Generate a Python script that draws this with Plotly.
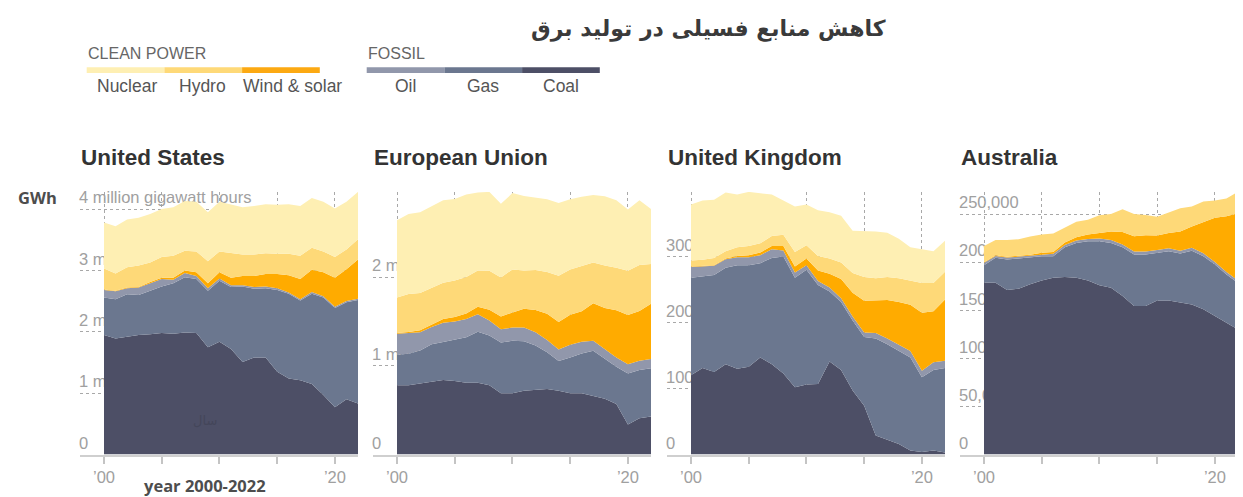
import plotly.graph_objects as go

# The page body keeps an 8 px margin, so the figure is sized to fill the rest
# of the 1243x497 window and reference pixel positions are shifted by 8 px.
PAGE_MARGIN = 8
FW, FH = 1243 - PAGE_MARGIN, 497 - PAGE_MARGIN

years = list(range(2000, 2023))

# ---------------- data ----------------
# United States, million GWh
us_coal = [1.95, 1.89, 1.92, 1.95, 1.96, 1.98, 1.97, 1.99, 1.98, 1.75, 1.84, 1.72, 1.51, 1.58, 1.58, 1.35, 1.24, 1.21, 1.15, 0.97, 0.77, 0.90, 0.83]
us_gas = [0.61, 0.64, 0.69, 0.65, 0.71, 0.76, 0.82, 0.90, 0.88, 0.92, 0.99, 1.01, 1.23, 1.12, 1.13, 1.33, 1.38, 1.30, 1.47, 1.59, 1.62, 1.58, 1.69]
us_oil = [0.12, 0.13, 0.10, 0.12, 0.12, 0.12, 0.06, 0.07, 0.05, 0.04, 0.04, 0.03, 0.02, 0.03, 0.03, 0.03, 0.02, 0.02, 0.03, 0.02, 0.02, 0.02, 0.02]
us_ws = [0.01, 0.01, 0.01, 0.01, 0.02, 0.02, 0.03, 0.04, 0.06, 0.08, 0.10, 0.12, 0.15, 0.18, 0.20, 0.23, 0.28, 0.33, 0.36, 0.39, 0.47, 0.52, 0.64]
us_hydro = [0.34, 0.28, 0.33, 0.35, 0.32, 0.34, 0.36, 0.32, 0.34, 0.36, 0.34, 0.40, 0.35, 0.35, 0.34, 0.33, 0.35, 0.38, 0.36, 0.34, 0.34, 0.32, 0.33]
us_nuclear = [0.75, 0.77, 0.78, 0.78, 0.79, 0.78, 0.79, 0.81, 0.81, 0.80, 0.81, 0.79, 0.77, 0.79, 0.80, 0.80, 0.81, 0.81, 0.81, 0.81, 0.79, 0.78, 0.77]

# European Union, million GWh
eu_coal = [0.78, 0.78, 0.80, 0.82, 0.84, 0.83, 0.81, 0.81, 0.78, 0.69, 0.69, 0.72, 0.73, 0.74, 0.72, 0.69, 0.69, 0.66, 0.63, 0.57, 0.34, 0.41, 0.43]
eu_gas = [0.345, 0.356, 0.374, 0.424, 0.43, 0.464, 0.513, 0.573, 0.561, 0.573, 0.592, 0.558, 0.498, 0.412, 0.334, 0.404, 0.45, 0.51, 0.45, 0.42, 0.573, 0.543, 0.543]
eu_oil = [0.236, 0.232, 0.206, 0.194, 0.217, 0.206, 0.206, 0.199, 0.169, 0.15, 0.149, 0.154, 0.15, 0.138, 0.131, 0.143, 0.131, 0.112, 0.111, 0.104, 0.105, 0.105, 0.105]
eu_ws = [0.01, 0.013, 0.022, 0.026, 0.04, 0.052, 0.062, 0.083, 0.121, 0.144, 0.166, 0.213, 0.252, 0.298, 0.31, 0.34, 0.344, 0.423, 0.46, 0.533, 0.555, 0.56, 0.621]
eu_hydro = [0.40, 0.43, 0.42, 0.42, 0.41, 0.41, 0.41, 0.41, 0.44, 0.44, 0.49, 0.43, 0.45, 0.47, 0.52, 0.51, 0.51, 0.46, 0.48, 0.48, 0.50, 0.52, 0.45]
eu_nuclear = [0.87, 0.90, 0.91, 0.92, 0.93, 0.92, 0.93, 0.88, 0.89, 0.83, 0.86, 0.84, 0.82, 0.82, 0.82, 0.79, 0.78, 0.76, 0.78, 0.76, 0.69, 0.73, 0.62]

# United Kingdom, thousand GWh
uk_coal = [120, 131, 125, 137, 130, 133, 147, 137, 123, 102, 106, 107, 141, 128, 97, 74, 29, 22, 16, 6, 4, 6, 3]
uk_gas = [148, 139, 147, 146, 157, 154, 143, 161, 177, 166, 174, 150, 106, 103, 106, 104, 147, 145, 141, 141, 113, 122, 128]
uk_oil = [16, 15, 14, 13, 12, 12, 12, 13, 9, 8, 7, 6, 6, 6, 6, 7, 8, 9, 10, 10, 10, 12, 11]
uk_ws = [1, 1, 1, 1, 2, 3, 4, 5, 7, 9, 10, 16, 21, 29, 36, 48, 50, 58, 64, 70, 88, 77, 93]
uk_hydro = [9, 9, 11, 11, 13, 14, 14, 15, 17, 22, 20, 22, 23, 25, 30, 36, 33, 35, 36, 37, 45, 43, 42]
uk_nuclear = [85, 90, 88, 89, 80, 82, 76, 63, 52, 69, 62, 69, 70, 71, 64, 70, 71, 67, 60, 50, 51, 48, 47]

# Australia, thousand GWh (no nuclear)
au_coal = [179, 178.6, 171, 172.4, 177, 181, 183.8, 184.5, 183.8, 181, 176, 173.4, 164.8, 154.5, 154.5, 160.3, 160.3, 158, 156, 151, 144, 137, 130]
au_gas = [17.9, 25.9, 31.8, 31.4, 27.5, 25.2, 22.4, 31, 36.2, 40.7, 45.7, 46.6, 50.7, 53.5, 53.5, 49.4, 51.1, 51, 56, 55.2, 53.6, 50.2, 48.6]
au_oil = [2.5, 2, 2, 2, 2, 2, 2.5, 2.5, 2.5, 2.5, 3, 3, 3, 3, 3, 3, 3, 3, 3, 3, 2.5, 2.5, 2.5]
au_ws = [0.5, 0.6, 0.8, 1, 1.2, 1.5, 2, 2.5, 3.5, 4.5, 6, 9, 13, 16, 17, 15, 16, 20, 22, 32, 46, 58, 70]
au_hydro = [17, 16, 17.5, 17, 19, 19, 19, 15.5, 16, 15.5, 18, 18, 23.5, 23, 21, 19.5, 21.5, 24, 21, 22, 18, 18.5, 22]
au_nuclear = [0] * 23

panel_titles = ["United States", "European Union", "United Kingdom", "Australia"]
us_ticks = [0, 1, 2, 3, 4]
us_ticktext = ["0", "1 million", "2 million", "3 million", "4 million gigawatt hours"]
eu_ticks = [0, 1, 2]
eu_ticktext = ["0", "1 million", "2 million"]
uk_ticks = [0, 100, 200, 300]
uk_ticktext = ["0", "100,000", "200,000", "300,000"]
au_ticks = [0, 50, 100, 150, 200, 250]
au_ticktext = ["0", "50,000", "100,000", "150,000", "200,000", "250,000"]
x_ticks = [2000, 2005, 2010, 2015, 2020]
x_ticktext = ["\u201900", "", "", "", "\u201920"]

series_names = ["Coal", "Gas", "Oil", "Wind & solar", "Hydro", "Nuclear"]
series_colors = ["#4d4f66", "#6b778f", "#9197ab", "#ffab00", "#fed978", "#feefb3"]

clean_labels = ["Nuclear", "Hydro", "Wind & solar"]
clean_colors = ["#feefb3", "#fed978", "#fca912"]
fossil_labels = ["Oil", "Gas", "Coal"]
fossil_colors = ["#9197ab", "#6b778f", "#4d4f66"]

title_text = "کاهش منابع فسیلی در تولید برق"

panels = [
    (us_coal, us_gas, us_oil, us_ws, us_hydro, us_nuclear, us_ticks, us_ticktext),
    (eu_coal, eu_gas, eu_oil, eu_ws, eu_hydro, eu_nuclear, eu_ticks, eu_ticktext),
    (uk_coal, uk_gas, uk_oil, uk_ws, uk_hydro, uk_nuclear, uk_ticks, uk_ticktext),
    (au_coal, au_gas, au_oil, au_ws, au_hydro, au_nuclear, au_ticks, au_ticktext),
]

# ---------------- layout geometry (window pixels) ----------------
panel_left = [80, 373, 667, 960]
panel_w = 278
plot_top, plot_bot = 190, 454.3
x_start = 2000 - 24 / 11.545


def px(x):
    return (x - PAGE_MARGIN) / FW


def py(y):
    return 1 - (y - PAGE_MARGIN) / FH


fig = go.Figure()
layout = dict(
    width=FW, height=FH,
    margin=dict(l=0, r=0, t=0, b=0),
    paper_bgcolor="white", plot_bgcolor="white",
    showlegend=False,
    font=dict(family="Liberation Sans, Arial, sans-serif", color="#999"),
)

annotations = []
shapes = []

for i, p in enumerate(panels):
    vals = p[:6]
    ticks, ticktext = p[6], p[7]
    n = "" if i == 0 else str(i + 1)
    xa, ya = "x" + n, "y" + n
    totals = [sum(v[k] for v in vals) for k in range(len(years))]
    for name, color, v in zip(series_names, series_colors, vals):
        if max(v) == 0:
            continue
        fig.add_trace(go.Scatter(
            x=years, y=v, name=name, mode="lines",
            stackgroup="s%d" % i, line=dict(width=0, color=color),
            fillcolor=color, xaxis=xa, yaxis=ya, hoverinfo="x+y+name",
        ))
    L = panel_left[i]
    layout["xaxis" + n] = dict(
        domain=[px(L), px(L + panel_w)], range=[x_start, 2022], anchor=ya,
        tickvals=x_ticks, ticktext=x_ticktext, ticks="outside", ticklen=7,
        tickwidth=1.5, tickcolor="#c4c4c4", showline=True, linecolor="#cfcfcf",
        linewidth=2, showgrid=True, gridcolor="#a8a8a8", griddash="dot",
        gridwidth=1.2, zeroline=False, tickfont=dict(size=16.5, color="#a0a0a0"),
        fixedrange=True,
    )
    # labels sit to the right of the left edge, above their grid line,
    # underneath the stacked areas
    layout["yaxis" + n] = dict(
        domain=[py(plot_bot), py(plot_top)], range=[0, max(totals)],
        anchor="free", position=px(L - 2), side="right",
        tickvals=ticks, ticktext=ticktext, ticklabelposition="outside top",
        ticks="", ticklen=0, showline=False, showgrid=True, gridcolor="#a8a8a8",
        griddash="dot", gridwidth=1.2, zeroline=False, layer="below traces",
        tickfont=dict(size=16.5, color="#a0a0a0"), fixedrange=True,
    )
    annotations.append(dict(
        text="<b>%s</b>" % panel_titles[i], xref="paper", yref="paper",
        x=px(L - 1), y=py(155.5), xanchor="left", yanchor="middle", showarrow=False,
        font=dict(size=22.5, color="#333333", family="Liberation Sans, Arial"),
    ))

# title
annotations.append(dict(
    text="<b>%s</b>" % title_text, xref="paper", yref="paper",
    x=px(708), y=py(26.5), xanchor="center", yanchor="middle", showarrow=False,
    font=dict(size=22, color="#3a3a3a", family="DejaVu Sans"),
))

# header legend
seg = 77.7
for group, labels, colors, x0, centers in [
    ("CLEAN POWER", clean_labels, clean_colors, 86.7, [126.8, 202, 292.7]),
    ("FOSSIL", fossil_labels, fossil_colors, 366.7, [405, 483.3, 560.8]),
]:
    annotations.append(dict(
        text=group, xref="paper", yref="paper", x=px(x0 - 1), y=py(50.5),
        xanchor="left", yanchor="middle", showarrow=False,
        font=dict(size=16, color="#666666"),
    ))
    for k, (lab, col, cx) in enumerate(zip(labels, colors, centers)):
        shapes.append(dict(
            type="rect", xref="paper", yref="paper",
            x0=px(x0 + k * seg), x1=px(x0 + (k + 1) * seg),
            y0=py(70.5), y1=py(64.5), fillcolor=col, line=dict(width=0),
        ))
        annotations.append(dict(
            text=lab, xref="paper", yref="paper", x=px(cx), y=py(83),
            xanchor="center", yanchor="middle", showarrow=False,
            font=dict(size=17.5, color="#555555"),
        ))

# unit and axis captions
annotations.append(dict(
    text="<b>GWh</b>", xref="paper", yref="paper", x=px(16), y=py(196),
    xanchor="left", yanchor="middle", showarrow=False,
    font=dict(size=16.5, color="#4d4d4d", family="Open Sans"),
))
annotations.append(dict(
    text="<b>year 2000-2022</b>", xref="paper", yref="paper", x=px(142), y=py(485.5),
    xanchor="left", yanchor="middle", showarrow=False,
    font=dict(size=16.5, color="#4d4d4d", family="Open Sans"),
))
annotations.append(dict(
    text="سال", xref="paper", yref="paper", x=px(205), y=py(420),
    xanchor="center", yanchor="middle", showarrow=False,
    font=dict(size=13, color="#44465a", family="DejaVu Sans"),
))

layout["annotations"] = annotations
layout["shapes"] = shapes
fig.update_layout(**layout)
fig.write_html("out.html")
